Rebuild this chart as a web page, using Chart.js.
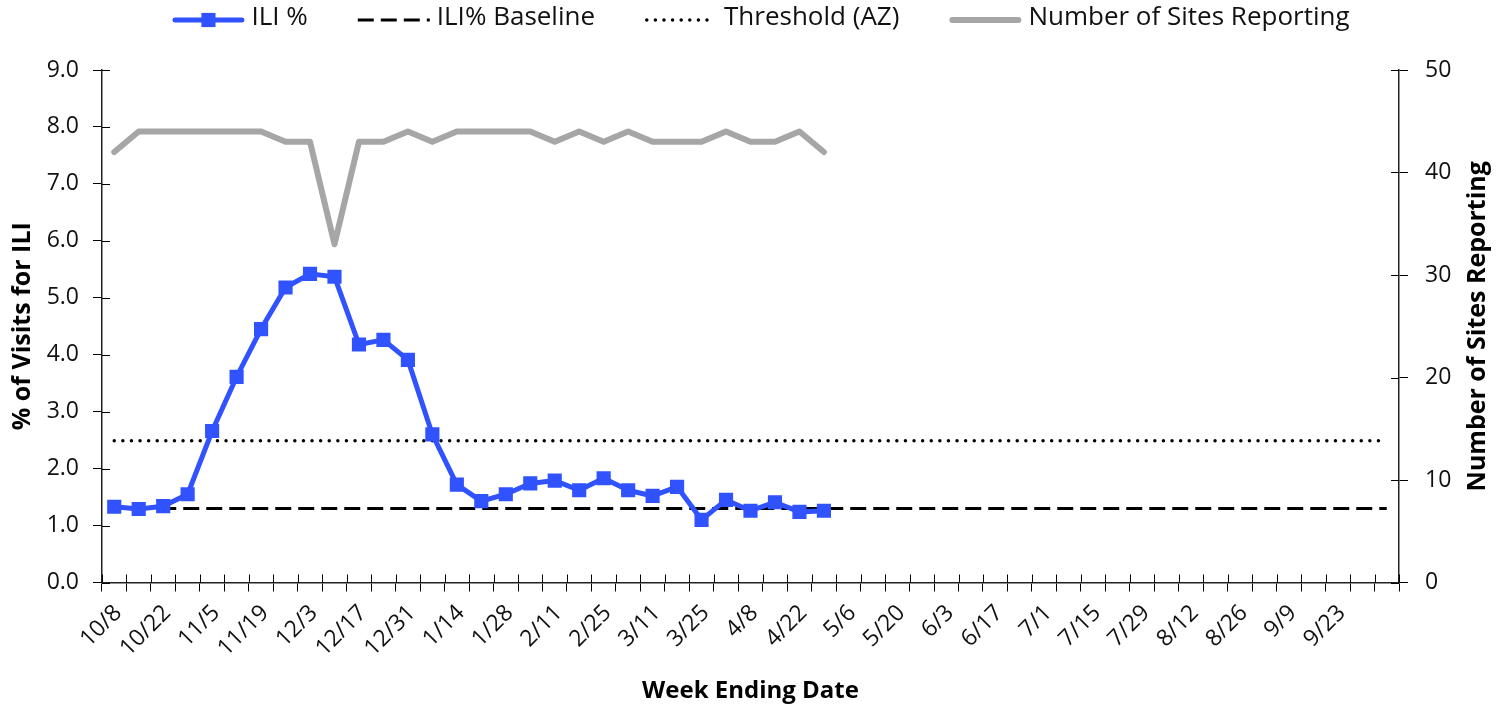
<!DOCTYPE html>
<html>
<head>
<meta charset="utf-8">
<title>ILI % by week</title>
<script src="https://cdn.jsdelivr.net/npm/chart.js@4/dist/chart.umd.min.js"></script>
<style>
  html, body { margin: 0; padding: 0; background: #fff; }
</style>
</head>
<body>
<canvas id="myChart" width="1505" height="708"></canvas>
<script>
// week ending dates (x categories), last slot has no label
var weeks = ['10/8','10/15','10/22','10/29','11/5','11/12','11/19','11/26','12/3','12/10','12/17','12/24','12/31',
  '1/7','1/14','1/21','1/28','2/4','2/11','2/18','2/25','3/4','3/11','3/18','3/25','4/1','4/8','4/15','4/22','4/29',
  '5/6','5/13','5/20','5/27','6/3','6/10','6/17','6/24','7/1','7/8','7/15','7/22','7/29','8/5','8/12','8/19','8/26',
  '9/2','9/9','9/16','9/23','9/30',''];

// % of visits for ILI
var iliPct = [1.33,1.29,1.34,1.55,2.66,3.61,4.45,5.18,5.42,5.37,4.18,4.26,3.91,2.60,1.72,1.43,1.55,1.74,1.79,1.62,
  1.83,1.62,1.52,1.68,1.10,1.45,1.26,1.41,1.24,1.26];

// ILI% baseline
var iliBaseline = [1.3,1.3,1.3,1.3,1.3,1.3,1.3,1.3,1.3,1.3,1.3,1.3,1.3,1.3,1.3,1.3,1.3,1.3,1.3,1.3,1.3,1.3,1.3,
  1.3,1.3,1.3,1.3,1.3,1.3,1.3,1.3,1.3,1.3,1.3,1.3,1.3,1.3,1.3,1.3,1.3,1.3,1.3,1.3,1.3,1.3,1.3,1.3,1.3,1.3,1.3,
  1.3,1.3,1.3];

// Threshold (AZ)
var thresholdAZ = [2.49,2.49,2.49,2.49,2.49,2.49,2.49,2.49,2.49,2.49,2.49,2.49,2.49,2.49,2.49,2.49,2.49,2.49,2.49,
  2.49,2.49,2.49,2.49,2.49,2.49,2.49,2.49,2.49,2.49,2.49,2.49,2.49,2.49,2.49,2.49,2.49,2.49,2.49,2.49,2.49,2.49,
  2.49,2.49,2.49,2.49,2.49,2.49,2.49,2.49,2.49,2.49,2.49,2.49];

// number of sites reporting (right axis)
var sitesReporting = [42,44,44,44,44,44,44,43,43,33,43,43,44,43,44,44,44,44,43,44,43,44,43,43,43,44,43,43,44,42];

var leftTicks = [0,1,2,3,4,5,6,7,8,9];
var rightTicks = [0,10,20,30,40,50];

var fontFam = '"Open Sans", "DejaVu Sans", sans-serif';
var blue = '#3052FF';
var gray = '#A6A6A6';

// inner half of the crossing tick marks, the right title (reads bottom to top) and the legend
var extras = {
  id: 'extras',
  afterDraw: function (chart) {
    var ctx = chart.ctx;
    var a = chart.chartArea;
    var x = chart.scales.x, yl = chart.scales.y, yr = chart.scales.y1;
    ctx.save();
    ctx.strokeStyle = '#000';
    ctx.lineWidth = 1;
    ctx.beginPath();
    for (var i = 0; i <= weeks.length; i++) {
      var px = Math.round(x.getPixelForValue(i - 0.5)) + 0.5;
      ctx.moveTo(px, a.bottom - 8);
      ctx.lineTo(px, a.bottom);
    }
    leftTicks.forEach(function (v) {
      var py = Math.round(yl.getPixelForValue(v)) + 0.5;
      ctx.moveTo(a.left, py);
      ctx.lineTo(a.left + 8, py);
    });
    rightTicks.forEach(function (v) {
      var py = Math.round(yr.getPixelForValue(v)) + 0.5;
      ctx.moveTo(a.right - 8, py);
      ctx.lineTo(a.right, py);
    });
    ctx.stroke();

    ctx.fillStyle = '#000';
    ctx.font = 'bold 25px ' + fontFam;
    ctx.textAlign = 'center';
    ctx.textBaseline = 'middle';
    ctx.translate(1478, (a.top + a.bottom) / 2);
    ctx.rotate(-Math.PI / 2);
    ctx.fillText('Number of Sites Reporting', 0, 0);
    ctx.restore();

    // legend
    ctx.save();
    ctx.font = '26px ' + fontFam;
    var sampleW = 72, gap = 7, itemGap = 50;
    var sets = chart.data.datasets;
    var total = 0;
    sets.forEach(function (ds, k) {
      total += sampleW + gap + ctx.measureText(ds.label).width + (k < sets.length - 1 ? itemGap : 0);
    });
    var cx = 761 - total / 2;
    var ly = 20;
    sets.forEach(function (ds) {
      ctx.beginPath();
      ctx.strokeStyle = ds.borderColor;
      ctx.lineWidth = ds.borderWidth;
      ctx.lineCap = ds.borderCapStyle || 'butt';
      ctx.setLineDash(ds.borderDash || []);
      var x0 = cx + (ds.borderCapStyle === 'round' ? ds.borderWidth / 2 : 0);
      var x1 = cx + sampleW - (ds.borderCapStyle === 'round' ? ds.borderWidth / 2 : 0);
      ctx.moveTo(x0, ly);
      ctx.lineTo(x1, ly);
      ctx.stroke();
      ctx.setLineDash([]);
      if (ds.pointRadius > 0) {
        var s = ds.pointRadius * Math.SQRT2;
        ctx.fillStyle = ds.pointBackgroundColor;
        ctx.fillRect(cx + sampleW / 2 - s / 2, ly - s / 2, s, s);
      }
      ctx.fillStyle = '#111';
      ctx.textAlign = 'left';
      ctx.textBaseline = 'middle';
      ctx.fillText(ds.label, cx + sampleW + gap, ly - 2);
      cx += sampleW + gap + ctx.measureText(ds.label).width + itemGap;
    });
    ctx.restore();
  }
};

var ctx = document.getElementById('myChart').getContext('2d');
var chart = new Chart(ctx, {
  type: 'line',
  data: {
    labels: weeks,
    datasets: [{
      label: 'ILI %',
      data: iliPct,
      yAxisID: 'y',
      borderColor: blue,
      backgroundColor: blue,
      borderWidth: 5,
      borderCapStyle: 'round',
      borderJoinStyle: 'round',
      pointStyle: 'rect',
      pointRadius: 10,
      pointBackgroundColor: blue,
      pointBorderWidth: 0,
      tension: 0
    }, {
      label: 'ILI% Baseline',
      data: iliBaseline,
      yAxisID: 'y',
      borderColor: '#000',
      borderWidth: 3,
      borderDash: [16, 7],
      pointRadius: 0
    }, {
      label: 'Threshold (AZ)',
      data: thresholdAZ,
      yAxisID: 'y',
      borderColor: '#000',
      borderWidth: 3.5,
      borderDash: [0, 8.6],
      borderCapStyle: 'round',
      pointRadius: 0
    }, {
      label: 'Number of Sites Reporting',
      data: sitesReporting,
      yAxisID: 'y1',
      borderColor: gray,
      borderWidth: 6,
      borderCapStyle: 'round',
      borderJoinStyle: 'round',
      pointRadius: 0
    }]
  },
  options: {
    responsive: false,
    animation: false,
    devicePixelRatio: 1,
    layout: { padding: { top: 70, left: 0, right: 0, bottom: 0 } },
    plugins: {
      legend: { display: false },
      tooltip: { enabled: false }
    },
    scales: {
      x: {
        type: 'category',
        offset: true,
        grid: { offset: true, drawOnChartArea: false, color: '#000', tickLength: 9, lineWidth: 1 },
        border: { color: '#222', width: 1.5 },
        ticks: {
          autoSkip: false,
          minRotation: 45,
          maxRotation: 45,
          padding: 8,
          labelOffset: 4,
          color: '#111',
          font: { family: fontFam, size: 23 },
          callback: function (v, i) { return i % 2 === 0 ? weeks[i] : ''; }
        },
        title: {
          display: true,
          text: 'Week Ending Date',
          color: '#000',
          font: { family: fontFam, size: 24, weight: 'bold' },
          padding: { top: 0, bottom: 2 }
        },
        afterFit: function (s) { s.height = 125.5; }
      },
      y: {
        position: 'left',
        min: 0,
        max: 9,
        grid: { drawOnChartArea: false, color: '#000', tickLength: 9 },
        border: { color: '#222', width: 1.5 },
        ticks: {
          stepSize: 1,
          padding: 14,
          color: '#111',
          font: { family: fontFam, size: 23 },
          callback: function (v) { return v.toFixed(1); }
        },
        title: {
          display: true,
          text: '% of Visits for ILI',
          color: '#000',
          font: { family: fontFam, size: 25, weight: 'bold' },
          padding: { top: 8, bottom: 0 }
        },
        afterFit: function (s) { s.width = 102; }
      },
      y1: {
        position: 'right',
        min: 0,
        max: 50,
        grid: { drawOnChartArea: false, color: '#000', tickLength: 9 },
        border: { color: '#222', width: 1.5 },
        ticks: {
          stepSize: 10,
          padding: 17,
          color: '#111',
          font: { family: fontFam, size: 23 }
        },
        afterFit: function (s) { s.width = 106; }
      }
    }
  },
  plugins: [extras]
});
</script>
</body>
</html>
